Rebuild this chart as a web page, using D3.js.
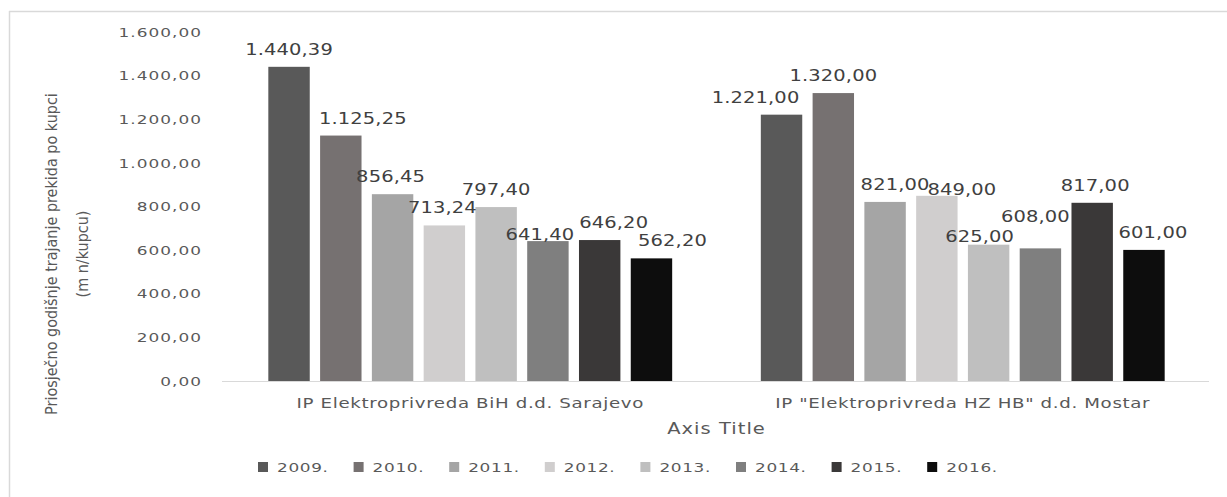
<!DOCTYPE html>
<html lang="bs">
<head>
  <meta charset="UTF-8">
  <title>Priosječno godišnje trajanje prekida po kupci</title>
  <style>
    body { margin: 0; background: #fff; }
    svg text { fill: #595959; font-family: "DejaVu Sans", sans-serif; }
    .tick text { font-size: 13px; letter-spacing: 0.8px; }
    .cat text { font-size: 14px; letter-spacing: 0.5px; }
    .val { font-size: 15px; letter-spacing: 0.1px; fill: #404040; }
    .ytitle { font-family: "DejaVu Sans Condensed", "DejaVu Sans", sans-serif; font-stretch: condensed; font-size: 16px; }
    .xtitle { font-size: 15px; letter-spacing: 0.8px; }
    .legend text { font-size: 13px; letter-spacing: 0.5px; }
  </style>
</head>
<body>
  <svg id="chart" width="1227" height="497"></svg>
  <script src="https://d3js.org/d3.v7.min.js"></script>
  <script>
    // companies on the x axis
    const categories = ["IP Elektroprivreda BiH d.d. Sarajevo", "IP \"Elektroprivreda HZ HB\" d.d. Mostar"];
    // years (series)
    const years = ["2009.", "2010.", "2011.", "2012.", "2013.", "2014.", "2015.", "2016."];
    const sarajevo = [1440.39, 1125.25, 856.45, 713.24, 797.40, 641.40, 646.20, 562.20];
    const mostar = [1221.00, 1320.00, 821.00, 849.00, 625.00, 608.00, 817.00, 601.00];
    const yTicks = [0, 200, 400, 600, 800, 1000, 1200, 1400, 1600];
    const colors = ["#595959", "#767171", "#a5a5a5", "#d0cece", "#bfbfbf", "#7f7f7f", "#3a3838", "#0d0d0d"];
    // small nudges for data labels (dx, dy) so they sit like in the original
    const labelNudge = [
      [[0, 0], [22, 0], [-2, 0], [-2, 0], [0, 0], [-8, 11], [14, 0], [21, 0]],
      [[-26, 0], [0, 0], [10, 0], [25, 11], [-9, 9], [-5, -14], [3, 0], [9, 0]]
    ];

    const stretch = "scale(1.3,1)"; // the original text is drawn wide
    const values = [sarajevo, mostar];
    const svg = d3.select("#chart");
    const margin = { left: 224, right: 18, top: 32, bottom: 116 };
    const W = 1227, H = 497;

    // frame lines (top & left only)
    svg.append("line").attr("x1", 9).attr("x2", W).attr("y1", 11.5).attr("y2", 11.5)
      .attr("stroke", "#d9d9d9").attr("stroke-width", 1.5);
    svg.append("line").attr("x1", 9.5).attr("x2", 9.5).attr("y1", 11).attr("y2", H)
      .attr("stroke", "#d9d9d9").attr("stroke-width", 1.5);

    const y = d3.scaleLinear().domain([0, 1600]).range([H - margin.bottom, margin.top]);
    const x0 = d3.scaleBand().domain(categories)
      .range([margin.left, W - margin.right]).paddingInner(0.18).paddingOuter(0.09);
    const x1 = d3.scaleBand().domain(years).range([0, x0.bandwidth()])
      .paddingInner(0.2).paddingOuter(0);

    // number format like 1.440,39
    const fmt = v => {
      const s = v.toFixed(2).replace(".", ",");
      const [int, dec] = s.split(",");
      return int.replace(/\B(?=(\d{3})+(?!\d))/g, ".") + "," + dec;
    };
    const yAxis = svg.append("g").attr("transform", `translate(${margin.left - 22},0)`)
      .call(d3.axisLeft(y).tickValues(yTicks).tickFormat(fmt).tickSize(0).tickPadding(0));
    yAxis.select(".domain").remove();
    yAxis.selectAll("text").attr("transform", stretch);

    // bars
    const groups = svg.append("g").selectAll("g")
      .data(categories)
      .join("g")
      .attr("transform", d => `translate(${x0(d)},0)`);

    groups.selectAll("rect")
      .data((d, i) => values[i].map((v, j) => ({ year: years[j], v, j })))
      .join("rect")
      .attr("x", d => x1(d.year))
      .attr("y", d => y(d.v))
      .attr("width", x1.bandwidth())
      .attr("height", d => y(0) - y(d.v))
      .attr("fill", d => colors[d.j]);

    groups.each(function (c, i) {
      d3.select(this).selectAll("text.val")
        .data(values[i].map((v, j) => ({ year: years[j], v, j })))
        .join("text")
        .attr("class", "val")
        .attr("text-anchor", "middle")
        .attr("transform", d => {
          const tx = x1(d.year) + x1.bandwidth() / 2 + labelNudge[i][d.j][0];
          const ty = y(d.v) - 12 + labelNudge[i][d.j][1];
          return `translate(${tx},${ty}) ${stretch}`;
        })
        .text(d => fmt(d.v));
    });

    // baseline
    svg.append("line")
      .attr("x1", margin.left - 2).attr("x2", W - margin.right)
      .attr("y1", y(0) + 0.5).attr("y2", y(0) + 0.5)
      .attr("stroke", "#d9d9d9").attr("stroke-width", 1);

    // category labels
    const xAxis = svg.append("g").attr("class", "cat")
      .attr("transform", `translate(0,${y(0)})`)
      .call(d3.axisBottom(x0).tickSize(0).tickPadding(17));
    xAxis.select(".domain").remove();
    xAxis.selectAll("text").attr("transform", stretch);

    // axis titles
    svg.append("text").attr("class", "xtitle")
      .attr("transform", `translate(${(margin.left + W - margin.right) / 2},434) ${stretch}`)
      .attr("text-anchor", "middle").text("Axis Title");

    const yt = svg.append("text").attr("class", "ytitle")
      .attr("transform", "translate(57,254) rotate(-90)")
      .attr("text-anchor", "middle");
    yt.append("tspan").attr("x", 0).attr("dy", 0).text("Priosječno godišnje trajanje prekida po kupci");
    yt.append("tspan").attr("x", 0).attr("dy", 31).text("(m n/kupcu)");

    // legend
    const legend = svg.append("g").attr("class", "legend")
      .attr("transform", "translate(258,467)");
    const item = legend.selectAll("g").data(years).join("g")
      .attr("transform", (d, i) => `translate(${i * 95.6},0)`);
    item.append("rect").attr("x", 0).attr("y", -5).attr("width", 10).attr("height", 10)
      .attr("fill", (d, i) => colors[i]);
    item.append("text").attr("transform", `translate(19,5) ${stretch}`).text(d => d);
  </script>
</body>
</html>
